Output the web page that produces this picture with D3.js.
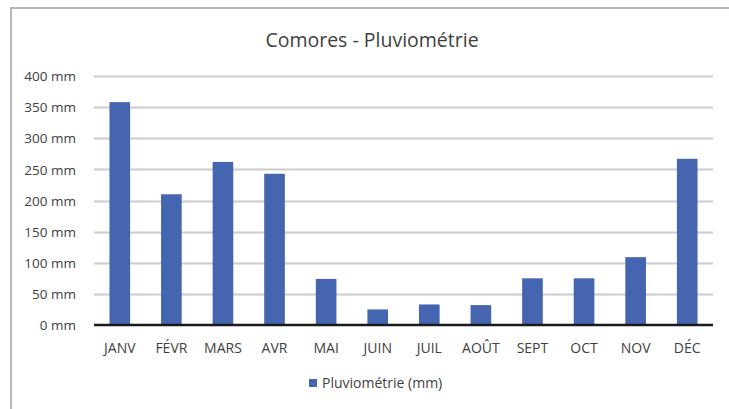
<!DOCTYPE html>
<html>
<head>
<meta charset="utf-8">
<script src="https://cdn.jsdelivr.net/npm/d3@7"></script>
<style>
  body { margin: 0; background: #fff; }
  svg text { font-family: "Open Sans", "Noto Sans", sans-serif; fill: #404040; }
</style>
</head>
<body>
<script>
var months = ["JANV", "FÉVR", "MARS", "AVR", "MAI", "JUIN", "JUIL", "AOÛT", "SEPT", "OCT", "NOV", "DÉC"];
var rainfall = [358, 210, 262, 243, 74, 25, 33, 32, 75, 75, 109, 267];
var yTicks = [0, 50, 100, 150, 200, 250, 300, 350, 400];
var title = "Comores - Pluviométrie";
var seriesName = "Pluviométrie (mm)";

var width = 729, height = 409;
var margin = {top: 76, right: 16, bottom: 84, left: 94};

var svg = d3.select("body").append("svg")
            .attr("width", width)
            .attr("height", height);

// frame
svg.append("rect")
   .attr("x", 11).attr("y", 8)
   .attr("width", width).attr("height", height)
   .attr("fill", "none")
   .attr("stroke", "#b4b8b6")
   .attr("stroke-width", 2);

var x = d3.scaleBand()
          .domain(months)
          .range([margin.left, width - margin.right])
          .paddingInner(0.6)
          .paddingOuter(0.3);

var y = d3.scaleLinear()
          .domain([0, 400])
          .range([height - margin.bottom, margin.top]);

svg.append("text")
   .attr("x", 372).attr("y", 47)
   .attr("text-anchor", "middle")
   .attr("font-size", 19.5)
   .attr("fill", "#303030")
   .text(title);

// gridlines
svg.append("g")
   .selectAll("line")
   .data(yTicks.slice(1))
   .enter().append("line")
   .attr("x1", margin.left).attr("x2", width - margin.right)
   .attr("y1", function (d) { return Math.round(y(d)) + 0.5; })
   .attr("y2", function (d) { return Math.round(y(d)) + 0.5; })
   .attr("stroke", "#cccccc")
   .attr("stroke-width", 2);

var yAxis = svg.append("g")
               .attr("transform", "translate(" + (margin.left - 15) + ",0)")
               .call(d3.axisLeft(y).tickValues(yTicks).tickSize(0)
                       .tickFormat(function (d) { return d + " mm"; }));
yAxis.select(".domain").remove();
yAxis.selectAll("text")
     .attr("font-size", 13.5)
     .attr("fill", "#353535")
     .attr("dy", "0.35em");

svg.append("g")
   .selectAll("rect")
   .data(rainfall)
   .enter().append("rect")
   .attr("x", function (d, i) { return x(months[i]); })
   .attr("width", x.bandwidth())
   .attr("y", function (d) { return y(d); })
   .attr("height", function (d) { return y(0) - y(d); })
   .attr("fill", "#4565b0");

svg.append("line")
   .attr("x1", margin.left).attr("x2", width - margin.right)
   .attr("y1", y(0)).attr("y2", y(0))
   .attr("stroke", "#1a1a1a")
   .attr("stroke-width", 2.5);

var xAxis = svg.append("g")
               .attr("transform", "translate(0," + (y(0) + 15) + ")")
               .call(d3.axisBottom(x).tickSize(0));
xAxis.select(".domain").remove();
xAxis.selectAll("text")
     .attr("font-size", 14)
     .attr("fill", "#353535");

// legend
var legend = svg.append("g").attr("transform", "translate(309,379)");
legend.append("rect")
      .attr("width", 8).attr("height", 8)
      .attr("fill", "#4565b0");
legend.append("text")
      .attr("x", 13).attr("y", 4)
      .attr("dy", "0.35em")
      .attr("font-size", 14)
      .attr("fill", "#353535")
      .text(seriesName);
</script>
</body>
</html>
